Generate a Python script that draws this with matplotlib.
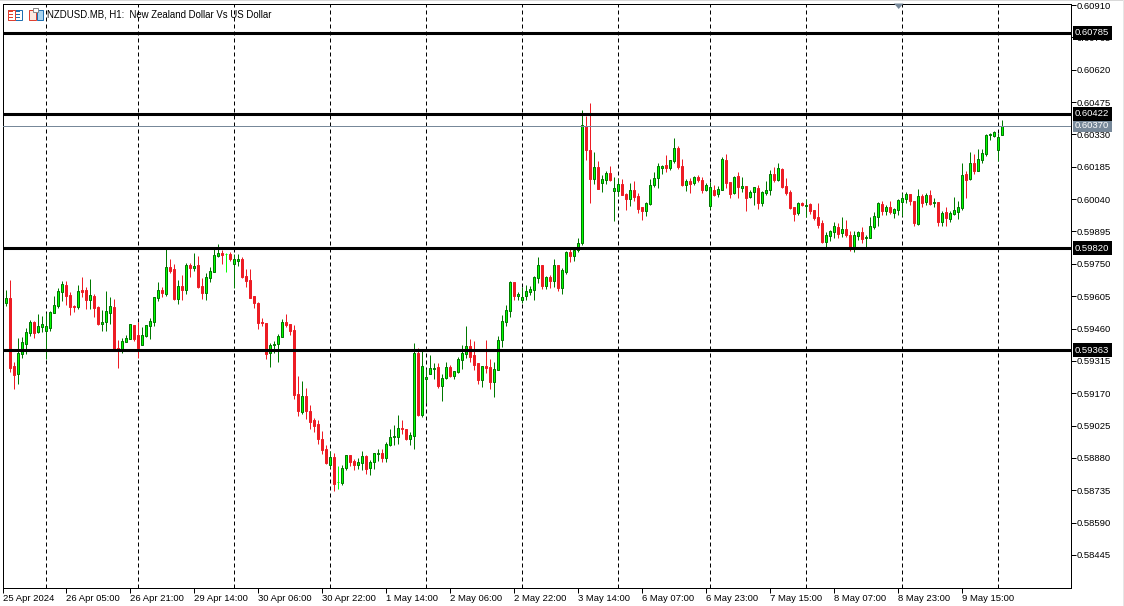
import matplotlib

matplotlib.use("Agg")

import matplotlib.pyplot as plt
import numpy as np
from matplotlib.patches import Polygon, Rectangle

# prix en points (1e-5), bougies H1 NZDUSD
opens = [
    59576, 59595, 59292, 59258, 59347, 59392, 59441, 59488, 59443, 59467,
    59450, 59464, 59531, 59562, 59625, 59654, 59609, 59561, 59556, 59631,
    59631, 59589, 59606, 59555, 59480, 59491, 59531, 59555, 59371, 59367,
    59401, 59415, 59474, 59430, 59388, 59426, 59471, 59488, 59597, 59633,
    59616, 59734, 59725, 59594, 59649, 59634, 59743, 59731, 59743, 59649,
    59621, 59686, 59715, 59785, 59797, 59794, 59794, 59751, 59764, 59770,
    59695, 59676, 59606, 59573, 59489, 59485, 59352, 59388, 59389, 59424,
    59488, 59480, 59452, 59166, 59086, 59156, 59089, 59048, 59030, 58963,
    58920, 58850, 58882, 58770, 58769, 58836, 58891, 58864, 58850, 58859,
    58888, 58836, 58863, 58898, 58902, 58878, 58939, 58972, 58975, 59012,
    59008, 58966, 58977, 59349, 59074, 59235, 59257, 59280, 59286, 59204,
    59240, 59286, 59247, 59267, 59320, 59347, 59380, 59340, 59304, 59231,
    59292, 59286, 59222, 59276, 59410, 59491,
    59540, 59668, 59606, 59588, 59606, 59624, 59633, 59686, 59743, 59650,
    59691, 59673, 59743, 59642, 59713, 59803, 59785, 59810, 59843, 60368,
    60260, 60132, 60182, 60114, 60126, 60155, 60076, 60078, 60106, 60061,
    60042, 60079, 60052, 60005, 59988, 60017, 60105, 60133, 60181, 60191,
    60181, 60212, 60268, 60187, 60105, 60120, 60114, 60138, 60126, 60082,
    60011, 60079, 60063, 60082, 60214, 60115, 60069, 60142, 60091, 60097,
    60051, 60073, 60088, 60024, 60067, 60081, 60152, 60126, 60173, 60099,
    60072, 60003, 59978, 60021, 60011, 60018, 59990, 59960, 59931, 59848,
    59876, 59893, 59915, 59888, 59905, 59878, 59822, 59876, 59891, 59864,
    59867, 59915, 59961, 60017, 59988, 60003, 59979, 59993, 60028, 60042,
    60061, 60031, 59928, 60052, 60027, 60057, 60024, 60025, 59937, 59981,
    59951, 59972, 59982, 60002, 60151, 60132, 60200, 60166, 60217, 60242,
    60326, 60323, 60262, 60329,
]
highs = [
    59633, 59677, 59311, 59419, 59422, 59462, 59498, 59495, 59525, 59516,
    59528, 59538, 59606, 59640, 59673, 59673, 59624, 59565, 59654, 59691,
    59645, 59680, 59613, 59559, 59543, 59628, 59603, 59591, 59409, 59416,
    59430, 59479, 59476, 59491, 59467, 59477, 59506, 59603, 59668, 59645,
    59815, 59772, 59748, 59677, 59700, 59754, 59752, 59797, 59785, 59685,
    59707, 59734, 59816, 59839, 59813, 59798, 59803, 59794, 59794, 59779,
    59725, 59727, 59606, 59579, 59506, 59486, 59394, 59403, 59434, 59501,
    59525, 59480, 59476, 59247, 59225, 59192, 59117, 59057, 59048, 59001,
    58938, 58911, 58900, 58844, 58848, 58893, 58891, 58873, 58881, 58911,
    58893, 58871, 58900, 58920, 58920, 58953, 59008, 59027, 59071, 59050,
    59008, 58994, 59395, 59371, 59364, 59278, 59341, 59307, 59304, 59256,
    59310, 59295, 59270, 59334, 59386, 59471, 59413, 59404, 59304, 59292,
    59409, 59322, 59311, 59425, 59521, 59565,
    59673, 59670, 59625, 59648, 59653, 59650, 59695, 59779, 59743, 59695,
    59698, 59771, 59743, 59730, 59806, 59816, 59819, 59866, 60439, 60414,
    60469, 60251, 60212, 60148, 60166, 60188, 60141, 60135, 60130, 60069,
    60111, 60121, 60067, 60006, 60025, 60129, 60163, 60200, 60191, 60238,
    60215, 60314, 60278, 60218, 60132, 60133, 60144, 60148, 60138, 60112,
    60115, 60103, 60097, 60227, 60242, 60115, 60142, 60161, 60139, 60097,
    60081, 60094, 60103,
    60076, 60121, 60170, 60184, 60202, 60178, 60135, 60082, 60003, 60027,
    60026, 60041, 60023, 59991, 60023, 59946, 59893, 59902, 59937, 59933,
    59960, 59946, 59896, 59897, 59899, 59916, 59878, 59960, 59984, 60027,
    60030, 60012, 60032, 59999, 60039, 60066, 60070, 60063, 60033, 60085,
    60061, 60066, 60081, 60045, 60027, 59985, 60003, 59988, 60049, 60030,
    60200, 60165, 60251, 60242, 60263, 60263, 60333, 60338, 60344, 60336,
    60395,
]
lows = [
    59561, 59267, 59190, 59211, 59328, 59346, 59426, 59419, 59441, 59446,
    59322, 59449, 59531, 59553, 59583, 59565, 59521, 59535, 59547, 59603,
    59547, 59546, 59512, 59476, 59449, 59449, 59479, 59364, 59285, 59352,
    59400, 59412, 59406, 59328, 59386, 59424, 59413, 59471, 59582, 59603,
    59607, 59707, 59589, 59570, 59588, 59615, 59691, 59719, 59642, 59592,
    59588, 59670, 59712, 59779, 59751, 59715, 59763, 59643, 59740, 59685,
    59645, 59597, 59552, 59459, 59471, 59323, 59289, 59352, 59310, 59424,
    59468, 59431, 59146, 59069, 59077, 59054, 59010, 58996, 58942, 58898,
    58854, 58836, 58731, 58741, 58758, 58826, 58844, 58826, 58830, 58826,
    58808, 58803, 58830, 58866, 58862, 58862, 58933, 58938, 58944, 58987,
    58960, 58938, 58921, 59068, 59063, 59127, 59256, 59234, 59192, 59135,
    59234, 59241, 59235, 59262, 59278, 59329, 59310, 59274, 59211, 59198,
    59262, 59189, 59153, 59274, 59377, 59471,
    59513, 59588, 59588, 59573, 59588, 59609, 59588, 59665, 59637, 59637,
    59642, 59648, 59628, 59615, 59704, 59760, 59763, 59803, 59834, 60215,
    60021, 60108, 60084, 60072, 60109, 60121, 59943, 60054, 60057, 59991,
    60009, 60031, 59979, 59946, 59964, 60014, 60096, 60090, 60152, 60160,
    60169, 60203, 60173, 60099, 60076, 60069, 60103, 60118, 60066, 60076,
    59994, 60054, 60051, 60081, 60090, 60043, 60063, 60046, 60070, 59988,
    60043, 60014, 59994,
    60009, 60058, 60058, 60117, 60121, 60090, 60060, 59996, 59942, 59969,
    60009, 59958, 59973, 59946, 59911, 59843, 59825, 59852, 59867, 59866,
    59870, 59869, 59807, 59803, 59857, 59845, 59825, 59866, 59908, 59919,
    59969, 59967, 59973, 59957, 59967, 59966, 60024, 60014, 59919, 59924,
    60003, 60014, 60012, 60006, 59919, 59919, 59919, 59937, 59967, 59951,
    59990, 60046, 60126, 60152, 60165, 60202, 60232, 60305, 60318, 60211,
    60329,
]
closes = [
    59595, 59285, 59253, 59349, 59398, 59443, 59488, 59441, 59470, 59479,
    59470, 59532, 59564, 59627, 59658, 59607, 59558, 59556, 59627, 59625,
    59589, 59609, 59553, 59480, 59488, 59537, 59559, 59370, 59367, 59403,
    59416, 59479, 59412, 59374, 59430, 59474, 59492, 59600, 59631, 59619,
    59734, 59718, 59592, 59649, 59633, 59743, 59733, 59739, 59646, 59621,
    59689, 59716, 59788, 59797, 59791, 59794, 59773, 59770, 59770, 59691,
    59673, 59598, 59576, 59486, 59486, 59347, 59385, 59391, 59427, 59488,
    59476, 59450, 59163, 59090, 59156, 59090, 59043, 59024, 58966, 58917,
    58857, 58882, 58764, 58770, 58833, 58891, 58863, 58850, 58860, 58887,
    58832, 58860, 58900, 58900, 58881, 58941, 58972, 58977, 59012, 59008,
    58966, 58981, 59349, 59072, 59290, 59241, 59281, 59281, 59204, 59240,
    59286, 59248, 59268, 59322, 59349, 59380, 59331, 59296, 59231, 59290,
    59283, 59222, 59277, 59407, 59492, 59541,
    59668, 59606, 59613, 59600, 59627, 59636, 59689, 59743, 59650, 59689,
    59673, 59743, 59642, 59721, 59801, 59785, 59812, 59842, 60371, 60260,
    60132, 60182, 60087, 60129, 60155, 60126, 60088, 60106, 60058, 60042,
    60079, 60051, 59996, 59988, 60021, 60102, 60133, 60187, 60187, 60179,
    60214, 60268, 60184, 60105, 60120, 60109, 60138, 60126, 60082, 60102,
    60093, 60057, 60084, 60218, 60114, 60064, 60138, 60093, 60097, 60046,
    60070, 60093, 60024, 60070, 60081, 60151, 60126, 60178, 60093, 60067,
    59999, 59975, 60021, 60015, 60014, 59988, 59955, 59925, 59848, 59878,
    59896, 59918, 59885, 59905, 59879, 59825, 59878, 59891, 59860, 59870,
    59918, 59963, 60021, 59988, 60003, 59981, 59994, 60034, 60043, 60061,
    60033, 59934, 60052, 60024, 60057, 60018, 60027, 59939, 59976, 59954,
    59976, 59990, 60003, 60147, 60126, 60200, 60166, 60218, 60245, 60327,
    60330, 60339, 60317, 60370,
]

y_ticks = [60910, 60765, 60620, 60475, 60330, 60185, 60040, 59895, 59750,
           59605, 59460, 59315, 59170, 59025, 58880, 58735, 58590, 58445]
x_tick_bars = [-1, 15, 31, 47, 63, 79, 95, 111, 127, 143, 159, 175, 191, 207, 223, 239]
x_tick_labels = ["25 Apr 2024", "26 Apr 05:00", "26 Apr 21:00", "29 Apr 14:00",
                 "30 Apr 06:00", "30 Apr 22:00", "1 May 14:00", "2 May 06:00",
                 "2 May 22:00", "3 May 14:00", "6 May 07:00", "6 May 23:00",
                 "7 May 15:00", "8 May 07:00", "8 May 23:00", "9 May 15:00"]
period_bars = [10, 33, 57, 81, 105, 129, 153, 176, 200, 224, 248]
levels = [60785, 60422, 59820, 59363]
bid = 60370
title = "NZDUSD.MB, H1:  New Zealand Dollar Vs US Dollar"

W, H = 1124, 606
BODY_UP = "#00FF00"
EDGE_UP = "#007800"
RED = "#ED1C24"
SLATE = "#778899"

plt.rcParams["font.family"] = ["Liberation Sans", "DejaVu Sans"]

fig = plt.figure(figsize=(W / 100, H / 100), dpi=100, facecolor="white")
left, right, top, bottom = 2.5, 1070.5, 3.5, 587.5
ax = fig.add_axes([left / W, 1 - bottom / H, (right - left) / W, (bottom - top) / H])
ax.set_xlim(-0.9375, 266.0625)
ax.set_ylim(58299, 60917)

o = np.array(opens, dtype=float)
c = np.array(closes, dtype=float)
hi = np.array(highs, dtype=float)
lo = np.array(lows, dtype=float)
x = np.arange(len(o))
up = c > o
down = c < o
doji = c == o
px = 0.72  # 1 pixel en points

ax.vlines(period_bars, 58299, 60917, color="black", lw=px, linestyle=(0, (4, 3)), zorder=2)

ax.vlines(x[up], lo[up], hi[up], color=EDGE_UP, lw=px, zorder=3)
ax.vlines(x[down], lo[down], hi[down], color=RED, lw=px, zorder=3)
ax.vlines(x[doji], lo[doji], hi[doji], color=BODY_UP, lw=px, zorder=3)
ax.hlines(c[doji], x[doji] - 0.25, x[doji] + 0.25, color=BODY_UP, lw=px, zorder=3)
ax.bar(x[up], (c - o)[up], bottom=o[up], width=0.5, color=BODY_UP, edgecolor=EDGE_UP, lw=px, zorder=4)
ax.bar(x[down], (c - o)[down], bottom=o[down], width=0.5, color=RED, edgecolor=RED, lw=px, zorder=4)

# niveaux horizontaux
ax.axhline(bid, color=SLATE, lw=px, zorder=5)
for lev in levels:
    ax.axhline(lev, color="black", lw=2.2, zorder=6)

ax.set_yticks(y_ticks)
ax.set_yticklabels([f"{t / 1e5:.5f}" for t in y_ticks])
ax.yaxis.tick_right()
ax.tick_params(axis="y", length=3.6, width=px, pad=0.6, labelsize=6.8, color="black")
ax.set_xticks(x_tick_bars)
ax.set_xticklabels(x_tick_labels, ha="left")
ax.tick_params(axis="x", length=3.6, width=px, pad=0.8, labelsize=6.8, color="black")
for spine in ax.spines.values():
    spine.set_linewidth(px)

# étiquettes de prix
trans = ax.get_yaxis_transform()
for lev in levels:
    ax.text(1.0042, lev, f"{lev / 1e5:.5f}", transform=trans, color="white", fontsize=6.8,
            va="center", ha="left", zorder=10, clip_on=False,
            bbox=dict(facecolor="black", edgecolor="black", pad=1.8, lw=0))
ax.text(1.0042, bid, f"{bid / 1e5:.5f}", transform=trans, color="white", fontsize=6.8,
        va="center", ha="left", zorder=9, clip_on=False,
        bbox=dict(facecolor=SLATE, edgecolor=SLATE, pad=1.8, lw=0))

fig.text(47 / W, 1 - 14.5 / H, title, fontsize=6.9, va="center", ha="left", color="black")


# le reste est en pixels de la figure
def fx(v):
    return v / W


def fy(v):
    return 1 - v / H


def add_rect(x0, y0, w, h, face="none", edge="none"):
    fig.add_artist(Rectangle((fx(x0), fy(y0 + h)), w / W, h / H, transform=fig.transFigure,
                             facecolor=face, edgecolor=edge, lw=px))


# bandeaux gris du bord
add_rect(0, 0, W, 1, face="#d9d9d9")
add_rect(W - 1, 0, 1, H, face="#e6e6e6")

# icônes
add_rect(7.5, 9.5, 14, 10, edge="#1f6fb0", face="white")
add_rect(7.5, 9.5, 7, 10, edge="#e04030", face="white")
for yy in (11, 14, 17):
    add_rect(9, yy, 4, 1, face="#e04030")
    add_rect(16, yy, 4, 1, face="#1f6fb0")
add_rect(28.5, 9.5, 7, 10, edge="#e04030", face="#fde8e0")
add_rect(36.5, 9.5, 6, 10, edge="#1f6fb0", face="#a8d4f0")
add_rect(33, 8.5, 5, 3, edge="#8a8a8a", face="white")

# triangle du haut
fig.add_artist(Polygon([[fx(894), fy(3.5)], [fx(903.5), fy(3.5)], [fx(898.7), fy(9)]],
                       transform=fig.transFigure, facecolor=SLATE, edgecolor="none", closed=True))

fig.savefig("out.png", dpi=100)
